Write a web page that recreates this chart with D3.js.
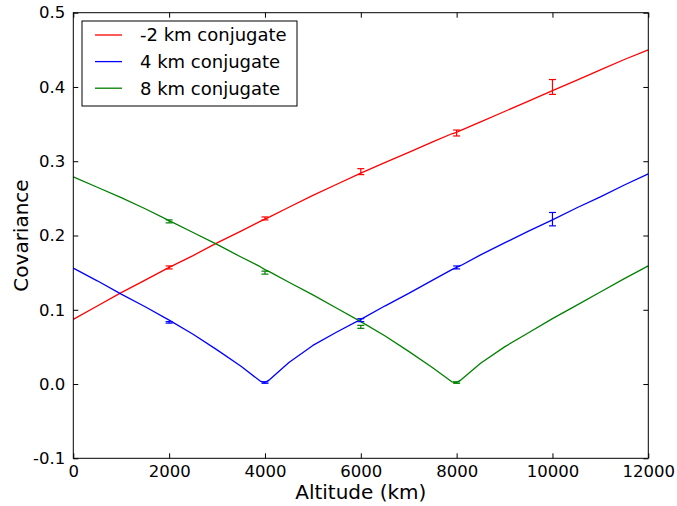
<!DOCTYPE html>
<html>
<head>
<meta charset="utf-8">
<script src="https://cdn.jsdelivr.net/npm/d3@7"></script>
<style>
  body { margin: 0; background: #fff; }
  svg text { font-family: "DejaVu Sans", sans-serif; fill: #000; }
</style>
</head>
<body>
<div id="chart"></div>
<script>
// altitudes (km) where the model curves are sampled
var altitudes = [0, 500, 1000, 1500, 2000, 2500, 3000, 3500, 3900, 4000, 4100, 4500, 5000, 5500, 6000,
  6500, 7000, 7500, 7900, 8000, 8100, 8500, 9000, 9500, 10000, 10500, 11000, 11500, 12000];

var redCurve = [0.087, 0.105, 0.123, 0.140, 0.157, 0.173, 0.190, 0.206, 0.219, 0.222, 0.225, 0.238, 0.254, 0.269, 0.284,
  0.298, 0.312, 0.326, 0.337, 0.339, 0.342, 0.353, 0.367, 0.381, 0.395, 0.409, 0.423, 0.437, 0.450];
var blueCurve = [0.156, 0.139, 0.121, 0.104, 0.086, 0.067, 0.046, 0.024, 0.004, 0.002, 0.006, 0.029, 0.052, 0.070, 0.087,
  0.105, 0.122, 0.140, 0.154, 0.157, 0.160, 0.174, 0.190, 0.206, 0.221, 0.237, 0.252, 0.268, 0.283];
var greenCurve = [0.279, 0.265, 0.251, 0.236, 0.220, 0.204, 0.188, 0.171, 0.158, 0.154, 0.151, 0.137, 0.120, 0.102, 0.084,
  0.065, 0.044, 0.022, 0.003, 0.002, 0.006, 0.028, 0.050, 0.069, 0.088, 0.106, 0.124, 0.142, 0.159];

// measured points with error bars
var redPtsX = [2000, 4000, 6000, 8000, 10000];
var redPts = [0.157, 0.223, 0.286, 0.338, 0.400];
var redErr = [0.002, 0.002, 0.004, 0.004, 0.010];
var bluePtsX = [2000, 4000, 6000, 8000, 10000];
var bluePts = [0.083, 0.002, 0.086, 0.157, 0.222];
var blueErr = [0.001, 0.001, 0.002, 0.002, 0.009];
var greenPtsX = [2000, 4000, 6000, 8000];
var greenPts = [0.219, 0.150, 0.077, 0.002];
var greenErr = [0.002, 0.002, 0.002, 0.001];

var seriesNames = ["-2 km conjugate", "4 km conjugate", "8 km conjugate"];
var seriesColors = ["#ff0000", "#0000ff", "#008000"];

var xTicks = [0, 2000, 4000, 6000, 8000, 10000, 12000];
var yTicks = [-0.1, 0.0, 0.1, 0.2, 0.3, 0.4, 0.5];

var dimensions = {
  width: 677,
  height: 506,
  margin: { top: 12.7, right: 28.7, bottom: 47.7, left: 73.3 }
};
dimensions.boundedWidth = dimensions.width - dimensions.margin.left - dimensions.margin.right;
dimensions.boundedHeight = dimensions.height - dimensions.margin.top - dimensions.margin.bottom;

var svg = d3.select("#chart")
  .append("svg")
  .attr("width", dimensions.width)
  .attr("height", dimensions.height);

var g = svg.append("g")
  .attr("transform", `translate(${dimensions.margin.left},${dimensions.margin.top})`);

var xScale = d3.scaleLinear().domain([0, 12000]).range([0, dimensions.boundedWidth]);
var yScale = d3.scaleLinear().domain([-0.1, 0.5]).range([dimensions.boundedHeight, 0]);

// curves
var line = d3.line()
  .x(d => xScale(d[0]))
  .y(d => yScale(d[1]));

var curves = [redCurve, blueCurve, greenCurve];
var points = [[redPtsX, redPts, redErr], [bluePtsX, bluePts, blueErr], [greenPtsX, greenPts, greenErr]];

var plot = g.append("g");

curves.forEach(function(c, i) {
  plot.append("path")
    .datum(altitudes.map((a, j) => [a, c[j]]))
    .attr("fill", "none")
    .attr("stroke", seriesColors[i])
    .attr("stroke-width", 1.3)
    .attr("stroke-linejoin", "round")
    .attr("d", line);
});

// error bars
points.forEach(function(p, i) {
  var data = p[0].map((x, j) => ({ x: x, y: p[1][j], e: p[2][j] }));
  var eb = plot.append("g").selectAll("g")
    .data(data)
    .enter()
    .append("g")
    .attr("stroke", seriesColors[i])
    .attr("stroke-width", 1.2);
  eb.append("line")
    .attr("x1", d => xScale(d.x)).attr("x2", d => xScale(d.x))
    .attr("y1", d => yScale(d.y - d.e)).attr("y2", d => yScale(d.y + d.e));
  eb.append("line")
    .attr("x1", d => xScale(d.x) - 3.5).attr("x2", d => xScale(d.x) + 3.5)
    .attr("y1", d => yScale(d.y - d.e)).attr("y2", d => yScale(d.y - d.e));
  eb.append("line")
    .attr("x1", d => xScale(d.x) - 3.5).attr("x2", d => xScale(d.x) + 3.5)
    .attr("y1", d => yScale(d.y + d.e)).attr("y2", d => yScale(d.y + d.e));
});

// axes: ticks pointing inward on all four sides
var tickLen = 5;
var yFormat = d => d3.format(".1f")(d).replace("\u2212", "-");
var xAxis = g.append("g")
  .attr("transform", `translate(0,${dimensions.boundedHeight})`)
  .call(d3.axisBottom(xScale).tickValues(xTicks).tickSizeInner(-tickLen).tickSizeOuter(0).tickPadding(7).tickFormat(d3.format("d")));
var xAxisTop = g.append("g")
  .call(d3.axisTop(xScale).tickValues(xTicks).tickSizeInner(-tickLen).tickSizeOuter(0).tickFormat(""));
var yAxis = g.append("g")
  .call(d3.axisLeft(yScale).tickValues(yTicks).tickSizeInner(-tickLen).tickSizeOuter(0).tickPadding(8).tickFormat(yFormat));
var yAxisRight = g.append("g")
  .attr("transform", `translate(${dimensions.boundedWidth},0)`)
  .call(d3.axisRight(yScale).tickValues(yTicks).tickSizeInner(-tickLen).tickSizeOuter(0).tickFormat(""));

[xAxis, xAxisTop, yAxis, yAxisRight].forEach(function(a) {
  a.select(".domain").remove();
  a.selectAll(".tick line").attr("stroke", "#000").attr("stroke-width", 1);
});
xAxis.selectAll("text").style("font-size", "16.5px").attr("font-family", "DejaVu Sans");
yAxis.selectAll("text").style("font-size", "16.5px").attr("font-family", "DejaVu Sans");

// frame
g.append("rect")
  .attr("width", dimensions.boundedWidth)
  .attr("height", dimensions.boundedHeight)
  .attr("fill", "none")
  .attr("stroke", "#000")
  .attr("stroke-width", 1);

// axis labels
svg.append("text")
  .attr("x", dimensions.margin.left + dimensions.boundedWidth / 2)
  .attr("y", 499)
  .attr("text-anchor", "middle")
  .style("font-size", "20px")
  .text("Altitude (km)");

svg.append("text")
  .attr("transform", `translate(28,${dimensions.margin.top + dimensions.boundedHeight / 2}) rotate(-90)`)
  .attr("text-anchor", "middle")
  .style("font-size", "20px")
  .text("Covariance");

// legend
var legend = svg.append("g").attr("transform", "translate(82,21)");
legend.append("rect")
  .attr("width", 215)
  .attr("height", 85)
  .attr("fill", "#fff")
  .attr("stroke", "#000")
  .attr("stroke-width", 1);
seriesNames.forEach(function(name, i) {
  var cy = 14 + i * 26.6;
  legend.append("line")
    .attr("x1", 13).attr("x2", 40)
    .attr("y1", cy).attr("y2", cy)
    .attr("stroke", seriesColors[i])
    .attr("stroke-width", 1.3);
  legend.append("text")
    .attr("x", 58)
    .attr("y", cy)
    .attr("dy", "0.35em")
    .style("font-size", "18px")
    .text(name);
});
</script>
</body>
</html>
